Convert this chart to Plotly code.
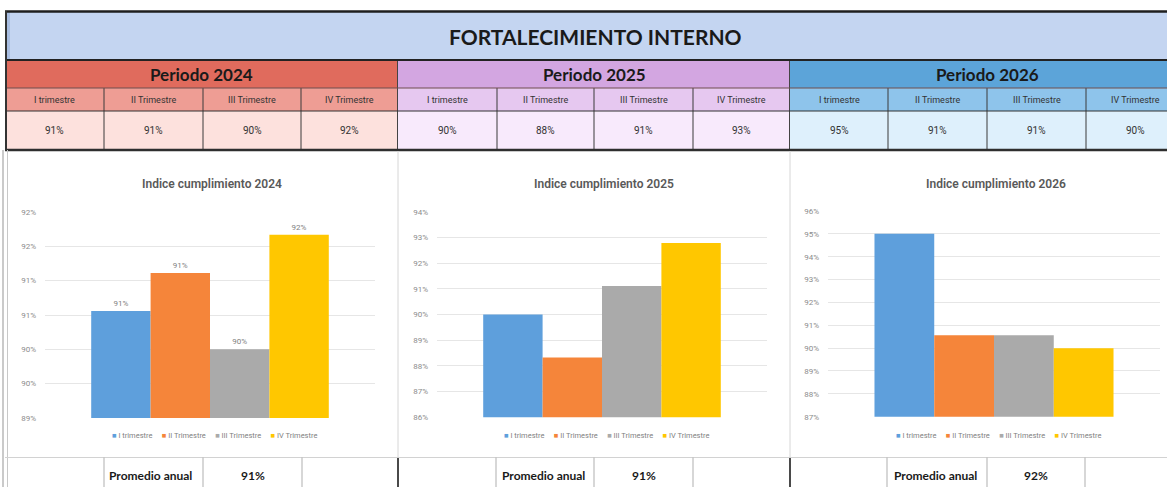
import plotly.graph_objects as go

# ---------------- data ----------------
title_main = "FORTALECIMIENTO INTERNO"
years = ["2024", "2025", "2026"]
quarters = ["I trimestre", "II Trimestre", "III Trimestre", "IV Trimestre"]
vals_2024 = [0.9056, 0.9111, 0.9000, 0.9167]
vals_2025 = [0.9000, 0.8833, 0.9111, 0.9278]
vals_2026 = [0.9500, 0.9056, 0.9056, 0.9000]
yrange_2024 = [0.89, 0.92]
yrange_2025 = [0.86, 0.94]
yrange_2026 = [0.87, 0.96]
ystep_2024 = 0.005
ystep_2025 = 0.01
ystep_2026 = 0.01
series = [vals_2024, vals_2025, vals_2026]
yranges = [yrange_2024, yrange_2025, yrange_2026]
ysteps = [ystep_2024, ystep_2025, ystep_2026]
show_labels = [True, False, False]

# ---------------- style / layout constants ----------------
W, H = 1167, 487
bar_colors = ["#5E9FDC", "#F5853A", "#AAAAAA", "#FFC700"]
period_colors = ["#E06B5D", "#D3A6E1", "#5CA4D9"]
quarter_colors = ["#EE9D94", "#E6C8F0", "#8EC4EB"]
value_colors = ["#FDE1DD", "#F8EAFC", "#DEF0FC"]
NARROW = "Roboto, sans-serif"
HEAD = "Lato, Roboto, sans-serif"

panel_x = [(5, 398), (398, 790), (790, 1185)]
cell_edges = [[5, 104, 203, 301, 398], [398, 497, 594, 693, 790], [790, 888, 987, 1086, 1185]]
plot_x = [(45, 375), (437, 767), (828, 1160)]
plot_y = [(212, 418), (211.7, 417.3), (211, 416.7)]
bottom_edges = [[104, 203, 302], [496, 594, 693], [887, 987, 1085]]
prom_left = [107, 500, 892]


def X(px):
    return px / W


def Y(py):
    return 1 - py / H


fig = go.Figure()

# ---------------- bars ----------------
for p, vals in enumerate(series):
    ax = "" if p == 0 else str(p + 1)
    for q, v in enumerate(vals):
        fig.add_trace(go.Bar(
            x=["Indice"], y=[v], name=quarters[q],
            marker=dict(color=bar_colors[q], line=dict(width=0)),
            xaxis="x" + ax, yaxis="y" + ax, showlegend=False,
            text=[f"{v:.0%}"] if show_labels[p] else None,
            textposition="outside" if show_labels[p] else "none",
            textfont=dict(size=8, color="#7F7F7F", family=NARROW),
            cliponaxis=False,
            hovertemplate=quarters[q] + ": %{y:.1%}<extra></extra>",
        ))

layout = dict(
    width=W, height=H, autosize=False,
    margin=dict(l=0, r=0, t=0, b=0, pad=0, autoexpand=False),
    paper_bgcolor="white", plot_bgcolor="white",
    barmode="group", bargap=0.28, bargroupgap=0,
    showlegend=False,
)
for p in range(3):
    ax = "" if p == 0 else str(p + 1)
    layout["xaxis" + ax] = dict(
        domain=[X(plot_x[p][0]), X(plot_x[p][1])], anchor="y" + ax, automargin=False,
        showticklabels=False, showgrid=False, zeroline=False, showline=False, fixedrange=True,
    )
    layout["yaxis" + ax] = dict(
        domain=[Y(plot_y[p][1]), Y(plot_y[p][0])], anchor="x" + ax, automargin=False,
        range=yranges[p], dtick=ysteps[p], tick0=yranges[p][0], tickformat=".0%",
        showgrid=True, gridcolor="#E6E6E6", gridwidth=1, zeroline=False, showline=False,
        ticks="", ticklabelstandoff=8,
        tickfont=dict(size=8, color="#8C8C8C", family=NARROW), fixedrange=True,
    )
fig.update_layout(**layout)

shapes = []
ann = []


def rect(x0, y0, x1, y1, fill):
    shapes.append(dict(type="rect", xref="paper", yref="paper", x0=X(x0), x1=X(x1),
                       y0=Y(y1), y1=Y(y0), fillcolor=fill, line=dict(width=0), layer="below"))


def line(x0, y0, x1, y1, color, width=1):
    shapes.append(dict(type="line", xref="paper", yref="paper", x0=X(x0), x1=X(x1),
                       y0=Y(y0), y1=Y(y1), line=dict(color=color, width=width)))


def text(x, y, s, size, color="#1A1A1A", family=HEAD, xanchor="center", bold=False):
    ann.append(dict(xref="paper", yref="paper", x=X(x), y=Y(y), text=f"<b>{s}</b>" if bold else s,
                    showarrow=False, xanchor=xanchor, yanchor="middle",
                    font=dict(size=size, color=color, family=family)))


# header band
rect(5, 12, 1167, 60, "#C4D5F1")
rect(5, 12, 10, 60, "#A9BEE2")
text(595, 37, title_main, 21, bold=True)

for p in range(3):
    xa, xb = panel_x[p]
    rect(xa, 60, xb, 88, period_colors[p])
    rect(xa, 88, xb, 111, quarter_colors[p])
    rect(xa, 111, xb, 150, value_colors[p])
    text((xa + xb) / 2, 74, "Periodo " + years[p], 17, bold=True)
    edges = cell_edges[p]
    for q in range(4):
        cx = (edges[q] + edges[q + 1]) / 2
        text(cx, 99.5, quarters[q], 9, color="#333333", family=NARROW)
        text(cx, 130, f"{series[p][q]:.0%}", 10, color="#333333", family=NARROW)
    for e in edges[1:4]:
        line(e, 88, e, 150, "#3A3A3A", 1)

# period boundaries
for e in (397.5, 789.5):
    line(e, 60, e, 150, "#444444", 1)

# horizontal rules
line(5, 11.5, 1167, 11.5, "#1E1E1E", 2.5)
line(5, 60, 1167, 60, "#222222", 2)
line(5, 88, 1167, 88, "#6E4E4E", 1)
line(5, 111, 1167, 111, "#333333", 1.2)
line(5, 150, 1167, 150, "#2E2E2E", 2.5)
line(6, 11, 6, 150, "#333333", 2)

# chart area frames
line(3, 150, 3, 487, "#B8B8B8", 1.5)
line(7.5, 150, 7.5, 487, "#C8C8C8", 1)
for e in (398, 790):
    line(e, 151, e, 457, "#D6D6D6", 1)
    line(e, 457, e, 487, "#4A4A4A", 2)
line(5, 457.5, 1167, 457.5, "#D2D2D2", 1)

for p in range(3):
    xa, xb = panel_x[p]
    px0, px1 = plot_x[p]
    cx = (px0 + px1) / 2
    # chart title
    ann.append(dict(xref="paper", yref="paper", x=X(cx + 2), y=Y(184),
                    text="Indice cumplimiento " + years[p], showarrow=False,
                    xanchor="center", yanchor="middle",
                    font=dict(size=12, color="#595959", family=NARROW, weight=600)))
    # legend
    parts = []
    for q in range(4):
        parts.append(f"<span style='color:{bar_colors[q]}'>■</span> {quarters[q]}")
    text(cx + 4, 435.5, "&nbsp;&nbsp;&nbsp;&nbsp;&nbsp;".join(parts), 7.5, color="#7F7F7F", family=NARROW)
    # bottom row
    be = bottom_edges[p]
    for e in be:
        line(e, 457.5, e, 487, "#AFAFAF", 1)
    text(prom_left[p], 475, "Promedio anual", 12, xanchor="left", bold=True)
    avg = sum(series[p]) / len(series[p])
    text((be[1] + be[2]) / 2, 475, f"{avg:.0%}", 12, bold=True)

fig.update_layout(shapes=shapes, annotations=ann)
fig.write_html(
    "out.html",
    config={"displayModeBar": False},
    post_script="document.body.style.margin='0';document.body.style.padding='0';"
                "document.body.style.overflow='hidden';",
)
